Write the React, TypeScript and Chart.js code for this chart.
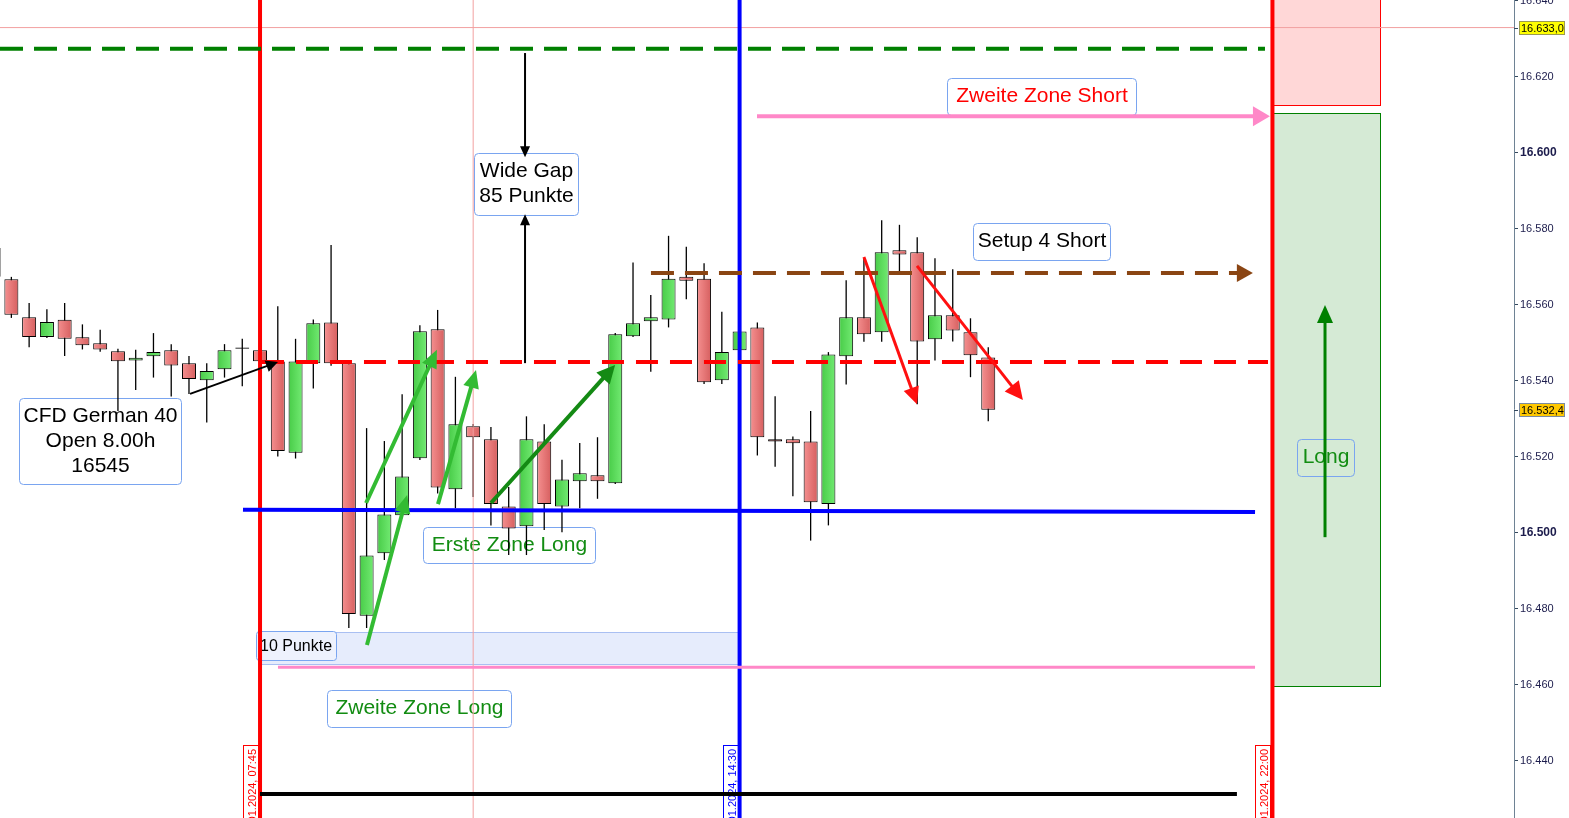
import React, { useEffect, useRef } from "react";
import { Chart, registerables } from "chart.js";

Chart.register(...registerables);

// 15-minute candles, slot 0 = 07:45 bar
const firstSlot = -15;
const opens = [
  16575.0, 16566.8, 16556.8, 16551.6, 16556.1, 16551.5, 16549.9, 16547.8, 16545.4, 16546.5,
  16548.1, 16544.7, 16540.2, 16543.1, 16548.5, 16548.1, 16545.1, 16521.1, 16544.7, 16555.4,
  16544.7, 16478.2, 16494.7, 16504.7, 16519.7, 16553.6, 16511.5, 16528.1, 16524.7, 16507.0,
  16501.8, 16524.1, 16507.0, 16513.6, 16515.2, 16513.1, 16551.8, 16555.7, 16556.2, 16567.4,
  16566.9, 16540.2, 16548.1, 16554.1, 16524.7, 16524.7, 16524.1, 16507.6, 16546.5, 16556.8,
  16552.8, 16574.4, 16573.9, 16551.0, 16557.3, 16552.8, 16546.2,
];
const highs = [
  16575.5, 16567.4, 16560.5, 16558.9, 16560.5, 16554.9, 16553.5, 16548.5, 16548.2, 16552.6,
  16549.7, 16546.6, 16544.7, 16549.7, 16551.1, 16548.4, 16559.7, 16551.1, 16556.2, 16575.8,
  16544.8, 16527.6, 16524.2, 16536.5, 16554.7, 16558.7, 16541.1, 16528.7, 16527.9, 16512.1,
  16530.7, 16528.6, 16519.3, 16523.7, 16525.2, 16552.6, 16571.2, 16562.6, 16578.2, 16575.3,
  16571.0, 16558.2, 16553.2, 16555.4, 16536.0, 16525.4, 16532.1, 16547.6, 16566.5, 16572.2,
  16582.3, 16581.1, 16577.8, 16572.3, 16569.4, 16556.5, 16548.9,
];
const lows = [
  16566.8, 16556.6, 16548.9, 16551.3, 16546.6, 16548.3, 16547.7, 16532.1, 16537.6, 16540.9,
  16535.9, 16536.6, 16529.1, 16540.9, 16538.6, 16545.0, 16520.1, 16519.6, 16538.0, 16544.0,
  16475.0, 16475.0, 16492.9, 16503.9, 16519.2, 16510.4, 16506.5, 16509.5, 16502.0, 16494.2,
  16494.2, 16500.8, 16500.2, 16506.5, 16509.0, 16512.9, 16551.6, 16542.4, 16554.1, 16561.5,
  16539.2, 16539.2, 16548.0, 16520.4, 16517.4, 16509.7, 16498.0, 16502.0, 16539.1, 16550.3,
  16550.3, 16568.6, 16533.9, 16545.4, 16550.4, 16541.0, 16529.4,
];
const closes = [
  16567.4, 16557.4, 16551.6, 16555.5, 16551.1, 16549.4, 16548.3, 16545.2, 16546.1, 16547.6,
  16544.1, 16540.5, 16542.6, 16548.1, 16548.8, 16545.2, 16521.6, 16545.1, 16555.2, 16544.7,
  16478.7, 16494.1, 16504.9, 16514.9, 16553.1, 16512.0, 16528.6, 16525.2, 16507.6, 16501.2,
  16524.7, 16507.6, 16514.1, 16515.7, 16513.6, 16552.3, 16555.2, 16556.8, 16566.9, 16566.4,
  16539.7, 16547.6, 16553.0, 16525.2, 16524.1, 16523.6, 16508.1, 16547.0, 16556.8, 16552.3,
  16573.9, 16573.3, 16550.4, 16557.3, 16553.3, 16546.8, 16532.4,
];

const yTickValues = [16440, 16460, 16480, 16500, 16520, 16540, 16560, 16580, 16600, 16620, 16640];
const lastPrice = 16532.4;
const crosshairPrice = 16633.0;
const crosshairSlot = 12;

const sessionSlots = [0, 27, 57];
const sessionLabels = ["18.01.2024, 07:45", "18.01.2024, 14:30", "18.01.2024, 22:00"];
const sessionColors = ["#ff0000", "#0000ff", "#ff0000"];

const X_MIN = -14.64;
const X_MAX = 70.6;
const Y_MIN = 16425.0;
const Y_MAX = 16640.26;

type Level = {
  x1: number; x2: number; p1: number; p2: number; color: string; width: number; dash: number[];
  head?: { x: number; len: number; half: number };
};
const levels: Level[] = [
  { x1: -14.64, x2: 56.58, p1: 16627.4, p2: 16627.4, color: "#008000", width: 4, dash: [23, 11] },
  { x1: 0.11, x2: 56.75, p1: 16545.0, p2: 16545.0, color: "#ff0000", width: 4, dash: [22, 12] },
  { x1: 22.01, x2: 55.2, p1: 16568.4, p2: 16568.4, color: "#8a4513", width: 4, dash: [23, 11], head: { x: 55.9, len: 16, half: 9 } },
  { x1: -0.96, x2: 56.02, p1: 16506.1, p2: 16505.5, color: "#0000ff", width: 4, dash: [] },
  { x1: 1.01, x2: 56.02, p1: 16464.7, p2: 16464.7, color: "#ff88c8", width: 3, dash: [] },
  { x1: 27.98, x2: 56.0, p1: 16609.7, p2: 16609.7, color: "#ff88c8", width: 4, dash: [], head: { x: 56.86, len: 17, half: 10 } },
  { x1: 0, x2: 55.0, p1: 16431.3, p2: 16431.3, color: "#000000", width: 4, dash: [] },
  { x1: -16, x2: 72, p1: crosshairPrice, p2: crosshairPrice, color: "#f2a0a0", width: 1, dash: [] },
];

const arrows = [
  { x1: 14.92, p1: 16626.3, x2: 14.92, p2: 16598.9, color: "#000000", width: 2, len: 11, half: 5 },
  { x1: 14.92, p1: 16544.7, x2: 14.92, p2: 16583.9, color: "#000000", width: 2, len: 11, half: 5 },
  { x1: -3.94, p1: 16536.6, x2: 1.01, p2: 16545.0, color: "#000000", width: 2, len: 12, half: 6 },
  { x1: 6.02, p1: 16470.5, x2: 8.28, p2: 16510.0, color: "#33bb33", width: 4, len: 18, half: 8 },
  { x1: 5.97, p1: 16507.9, x2: 9.96, p2: 16548.2, color: "#33bb33", width: 4, len: 18, half: 8 },
  { x1: 10.02, p1: 16507.6, x2: 12.16, p2: 16542.9, color: "#33bb33", width: 4, len: 18, half: 8 },
  { x1: 13.0, p1: 16507.9, x2: 19.99, p2: 16544.2, color: "#148a14", width: 4, len: 18, half: 9 },
  { x1: 34.0, p1: 16572.6, x2: 36.99, p2: 16533.9, color: "#ff1010", width: 3, len: 17, half: 8 },
  { x1: 36.99, p1: 16570.3, x2: 42.95, p2: 16535.0, color: "#ff1010", width: 3, len: 18, half: 9 },
  { x1: 59.96, p1: 16498.9, x2: 59.96, p2: 16560.0, color: "#008000", width: 3, len: 18, half: 8 },
];

const zones = [
  { x1: -0.11, x2: 27.02, p1: 16473.9, p2: 16465.5, fill: "#e6ecfc", stroke: "#a9bff2" },
  { x1: 57.03, x2: 63.05, p1: 16645, p2: 16612.6, fill: "#ffd7d7", stroke: "#ff0000" },
  { x1: 57.03, x2: 63.05, p1: 16610.5, p2: 16459.7, fill: "#d5ead5", stroke: "#008000" },
];

const notes = [
  { lines: ["CFD German 40", "Open 8.00h", "16545"], x1: -13.57, x2: -4.45, p1: 16535.5, p2: 16512.9, color: "#000000", fill: "#ffffff" },
  { lines: ["Wide Gap", "85 Punkte"], x1: 12.05, x2: 17.9, p1: 16600.0, p2: 16583.7, color: "#000000", fill: "#ffffff" },
  { lines: ["Zweite Zone Short"], x1: 38.68, x2: 49.32, p1: 16619.7, p2: 16610.0, color: "#ff0000", fill: "#ffffff" },
  { lines: ["Setup 4 Short"], x1: 40.14, x2: 47.85, p1: 16581.6, p2: 16571.8, color: "#000000", fill: "#ffffff" },
  { lines: ["Erste Zone Long"], x1: 9.18, x2: 18.86, p1: 16501.6, p2: 16492.1, color: "#128c12", fill: "#ffffff" },
  { lines: ["Zweite Zone Long"], x1: 3.77, x2: 14.13, p1: 16458.7, p2: 16448.9, color: "#128c12", fill: "#ffffff" },
  { lines: ["Long"], x1: 58.38, x2: 61.59, p1: 16524.7, p2: 16515.0, color: "#128c12", fill: "" },
];
const smallNote = { text: "10 Punkte", x1: -0.23, x2: 4.28, p1: 16474.2, p2: 16466.6 };
const sessionLabelPrice = 16444.2;

const FONT = '"Liberation Sans", Arial, sans-serif';

function fmtTick(v: number) {
  const t = Math.floor(v / 1000);
  const r = Math.round(v - t * 1000);
  return t + "." + String(r).padStart(3, "0");
}
function fmtPrice(v: number) {
  const t = Math.floor(v / 1000);
  const r = v - t * 1000;
  const whole = Math.floor(r + 1e-6);
  const dec = Math.round((r - whole) * 10);
  return t + "." + String(whole).padStart(3, "0") + "," + dec;
}

function roundRectPath(ctx: CanvasRenderingContext2D, x: number, y: number, w: number, h: number, r: number) {
  ctx.beginPath();
  ctx.moveTo(x + r, y);
  ctx.arcTo(x + w, y, x + w, y + h, r);
  ctx.arcTo(x + w, y + h, x, y + h, r);
  ctx.arcTo(x, y + h, x, y, r);
  ctx.arcTo(x, y, x + w, y, r);
  ctx.closePath();
}

function drawHead(ctx: CanvasRenderingContext2D, fx: number, fy: number, tx: number, ty: number, len: number, half: number, color: string) {
  const a = Math.atan2(ty - fy, tx - fx);
  const bx = tx - len * Math.cos(a);
  const by = ty - len * Math.sin(a);
  ctx.beginPath();
  ctx.moveTo(tx, ty);
  ctx.lineTo(bx + half * Math.sin(a), by - half * Math.cos(a));
  ctx.lineTo(bx - half * Math.sin(a), by + half * Math.cos(a));
  ctx.closePath();
  ctx.fillStyle = color;
  ctx.fill();
}

const overlayPlugin = {
  id: "overlay",
  beforeDatasetsDraw(chart: any) {
    const { ctx, scales, chartArea } = chart;
    const px = (v: number) => scales.x.getPixelForValue(v);
    const py = (v: number) => scales.y.getPixelForValue(v);
    ctx.save();
    for (const z of zones) {
      const l = Math.round(px(z.x1)), r = Math.round(px(z.x2));
      const t = Math.round(py(z.p1)), b = Math.round(py(z.p2));
      ctx.fillStyle = z.fill;
      ctx.fillRect(l, t, r - l, b - t);
      ctx.strokeStyle = z.stroke;
      ctx.lineWidth = 1;
      ctx.strokeRect(l + 0.5, t + 0.5, r - l, b - t);
    }
    {
      const l = Math.round(px(smallNote.x1)), r = Math.round(px(smallNote.x2));
      const t = Math.round(py(smallNote.p1)), b = Math.round(py(smallNote.p2));
      roundRectPath(ctx, l + 0.5, t + 0.5, r - l, b - t, 3);
      ctx.fillStyle = "#eef2fd";
      ctx.fill();
      ctx.strokeStyle = "#7aa5f0";
      ctx.lineWidth = 1;
      ctx.stroke();
      ctx.fillStyle = "#000000";
      ctx.font = "16px " + FONT;
      ctx.textAlign = "left";
      ctx.textBaseline = "middle";
      ctx.fillText(smallNote.text, l + 4, (t + b) / 2 + 1);
    }
    for (const n of notes) {
      const l = Math.round(px(n.x1)), r = Math.round(px(n.x2));
      const t = Math.round(py(n.p1)), b = Math.round(py(n.p2));
      roundRectPath(ctx, l + 0.5, t + 0.5, r - l, b - t, 4);
      if (n.fill) {
        ctx.fillStyle = n.fill;
        ctx.fill();
      }
      ctx.strokeStyle = "#7aa5f0";
      ctx.lineWidth = 1;
      ctx.stroke();
      ctx.fillStyle = n.color;
      ctx.font = "21px " + FONT;
      ctx.textAlign = "center";
      ctx.textBaseline = "middle";
      const cy = (t + b) / 2;
      const cx = (l + r) / 2 + 0.5;
      n.lines.forEach((line, k) => {
        ctx.fillText(line, cx, cy - ((n.lines.length - 1) * 25) / 2 + k * 25);
      });
    }
    sessionSlots.forEach((s, k) => {
      const lx = px(s);
      const right = Math.round(lx - 2);
      const left = right - 15;
      const top = Math.round(py(sessionLabelPrice));
      ctx.fillStyle = "#ffffff";
      ctx.fillRect(left, top, right - left, chartArea.bottom - top + 2);
      ctx.strokeStyle = sessionColors[k];
      ctx.lineWidth = 1;
      ctx.strokeRect(left + 0.5, top + 0.5, right - left, chartArea.bottom - top + 4);
      ctx.save();
      ctx.translate(right - 2, top + 4);
      ctx.rotate(-Math.PI / 2);
      ctx.fillStyle = sessionColors[k];
      ctx.font = "11px " + FONT;
      ctx.textAlign = "right";
      ctx.textBaseline = "alphabetic";
      ctx.fillText(sessionLabels[k], 0, 0);
      ctx.restore();
    });
    ctx.restore();
  },
  afterDatasetsDraw(chart: any) {
    const { ctx, scales } = chart;
    const px = (v: number) => scales.x.getPixelForValue(v);
    const py = (v: number) => scales.y.getPixelForValue(v);
    ctx.save();
    for (const lv of levels) {
      if (!lv.head) continue;
      const fx = px(lv.x1), fy = py(lv.p1);
      const tx = px(lv.head.x), ty = py(lv.p2);
      drawHead(ctx, fx, fy, tx, ty, lv.head.len, lv.head.half, lv.color);
    }
    for (const a of arrows) {
      const fx = px(a.x1), fy = py(a.p1), tx = px(a.x2), ty = py(a.p2);
      const ang = Math.atan2(ty - fy, tx - fx);
      const ex = tx - a.len * 0.7 * Math.cos(ang);
      const ey = ty - a.len * 0.7 * Math.sin(ang);
      ctx.beginPath();
      ctx.moveTo(fx, fy);
      ctx.lineTo(ex, ey);
      ctx.strokeStyle = a.color;
      ctx.lineWidth = a.width;
      ctx.lineCap = "butt";
      ctx.stroke();
      drawHead(ctx, fx, fy, tx, ty, a.len, a.half, a.color);
    }
    ctx.restore();
  },
  afterDraw(chart: any) {
    const { ctx, scales, chartArea } = chart;
    const py = (v: number) => scales.y.getPixelForValue(v);
    ctx.save();
    const boxes = [
      { v: crosshairPrice, fill: "#ffff00", stroke: "#9a9a50" },
      { v: lastPrice, fill: "#ffc800", stroke: "#7a8aa0" },
    ];
    for (const b of boxes) {
      const y = Math.round(py(b.v));
      ctx.strokeStyle = "#34495e";
      ctx.lineWidth = 1;
      ctx.beginPath();
      ctx.moveTo(chartArea.right, y + 0.5);
      ctx.lineTo(chartArea.right + 4, y + 0.5);
      ctx.stroke();
      const l = chartArea.right + 5;
      ctx.fillStyle = b.fill;
      ctx.fillRect(l, y - 7, 46, 14);
      ctx.strokeStyle = b.stroke;
      ctx.strokeRect(l + 0.5, y - 6.5, 45, 13);
      ctx.fillStyle = "#000000";
      ctx.font = "11px " + FONT;
      ctx.textAlign = "left";
      ctx.textBaseline = "middle";
      ctx.fillText(fmtPrice(b.v), l + 2, y + 0.5);
    }
    ctx.restore();
  },
};

function candleFill(c: any) {
  const i = c.dataIndex;
  if (i === undefined) return "#ec7a7a";
  const up = closes[i] >= opens[i];
  const xs = c.chart.scales && c.chart.scales.x;
  const cx = xs ? xs.getPixelForValue(firstSlot + i) : NaN;
  if (!isFinite(cx)) return up ? "#5cdc5c" : "#ec7a7a";
  const g = c.chart.ctx.createLinearGradient(cx - 7, 0, cx + 7, 0);
  if (up) {
    g.addColorStop(0, "#48cc48");
    g.addColorStop(1, "#72ea72");
  } else {
    g.addColorStop(0, "#f59090");
    g.addColorStop(1, "#d65f5f");
  }
  return g;
}

export default function App() {
  const ref = useRef<HTMLCanvasElement | null>(null);
  useEffect(() => {
    if (!ref.current) return;
    const wickData = lows.map((l, k) => ({ x: firstSlot + k, y: [l, highs[k]] }));
    const bodyData = opens.map((o, k) => ({ x: firstSlot + k, y: [o, closes[k]] }));
    const lineSets: any[] = levels.map((lv, k) => ({
      type: "line",
      data: [
        { x: lv.x1, y: lv.p1 },
        { x: lv.x2, y: lv.p2 },
      ],
      borderColor: lv.color,
      borderWidth: lv.width,
      borderDash: lv.dash,
      borderCapStyle: "butt",
      pointRadius: 0,
      pointHoverRadius: 0,
      fill: false,
      tension: 0,
      order: k === levels.length - 1 ? 6 : 1,
    }));
    const verticalSets: any[] = sessionSlots.map((s, k) => ({
      type: "line",
      data: [
        { x: s, y: 16400 },
        { x: s, y: 16660 },
      ],
      borderColor: sessionColors[k],
      borderWidth: 4,
      pointRadius: 0,
      pointHoverRadius: 0,
      fill: false,
      order: 4,
    }));
    verticalSets.push({
      type: "line",
      data: [
        { x: crosshairSlot, y: 16400 },
        { x: crosshairSlot, y: 16660 },
      ],
      borderColor: "#f2a0a0",
      borderWidth: 1,
      pointRadius: 0,
      pointHoverRadius: 0,
      fill: false,
      order: 7,
    });
    const chart = new Chart(ref.current, {
      type: "bar",
      data: {
        datasets: [
          {
            type: "bar",
            label: "wick",
            data: wickData as any,
            backgroundColor: "#000000",
            borderWidth: 0,
            barThickness: 1.3,
            grouped: false,
            inflateAmount: 0,
            order: 11,
          } as any,
          {
            type: "bar",
            label: "body",
            data: bodyData as any,
            backgroundColor: candleFill,
            borderColor: "#000000",
            borderWidth: 1,
            borderSkipped: false,
            barThickness: 14,
            grouped: false,
            inflateAmount: 0,
            order: 10,
          } as any,
          ...lineSets,
          ...verticalSets,
        ],
      },
      options: {
        responsive: false,
        devicePixelRatio: 1,
        animation: false,
        events: [],
        layout: { padding: 0 },
        plugins: {
          legend: { display: false },
          tooltip: { enabled: false },
          title: { display: false },
        },
        scales: {
          x: {
            type: "linear",
            display: false,
            min: X_MIN,
            max: X_MAX,
            offset: false,
          },
          y: {
            type: "linear",
            position: "right",
            min: Y_MIN,
            max: Y_MAX,
            afterBuildTicks: (s: any) => {
              s.ticks = yTickValues.map((v) => ({ value: v }));
            },
            afterFit: (s: any) => {
              s.width = 55;
              s.paddingTop = 0;
              s.paddingBottom = 0;
            },
            grid: {
              display: true,
              drawOnChartArea: false,
              drawTicks: true,
              tickLength: 4,
              color: "#34495e",
            },
            border: { display: true, color: "#6e8294", width: 1 },
            ticks: {
              padding: 2,
              color: "#1c1c4c",
              callback: (v: any) => fmtTick(Number(v)),
              font: (c: any) =>
                c.tick && Math.round(c.tick.value) % 100 === 0
                  ? { family: FONT, size: 12, weight: "bold" }
                  : { family: FONT, size: 11, weight: "normal" },
            },
          },
        },
      } as any,
      plugins: [overlayPlugin],
    });
    return () => chart.destroy();
  }, []);
  return (
    <div style={{ position: "absolute", left: 0, top: 0, width: 1569, height: 818, background: "#ffffff" }}>
      <canvas ref={ref} width={1569} height={818} style={{ display: "block", width: 1569, height: 818 }} />
    </div>
  );
}
